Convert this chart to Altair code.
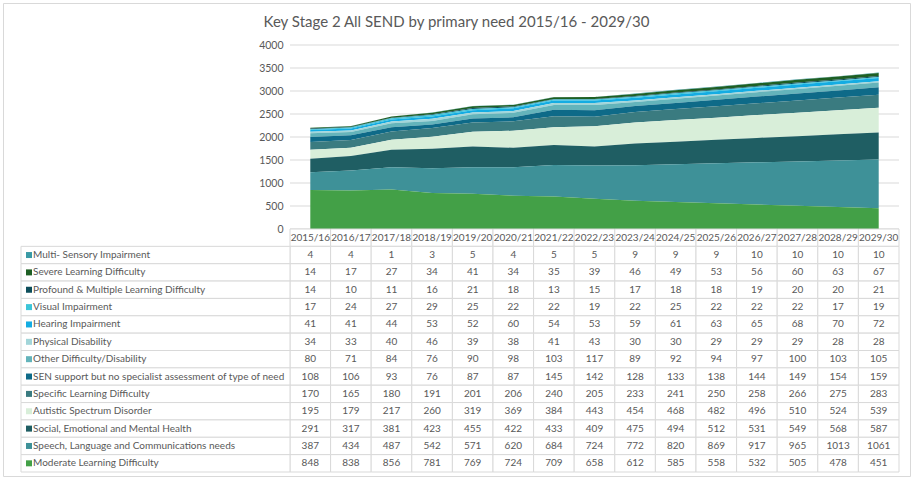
import altair as alt
import pandas as pd

TITLE = "Key Stage 2 All SEND by primary need 2015/16 - 2029/30"

years = ["2015/16", "2016/17", "2017/18", "2018/19", "2019/20", "2020/21", "2021/22",
         "2022/23", "2023/24", "2024/25", "2025/26", "2026/27", "2027/28", "2028/29", "2029/30"]

needs = [
    "Multi- Sensory Impairment",
    "Severe Learning Difficulty",
    "Profound & Multiple Learning Difficulty",
    "Visual Impairment",
    "Hearing Impairment",
    "Physical Disability",
    "Other Difficulty/Disability",
    "SEN support but no specialist assessment of type of need",
    "Specific Learning Difficulty",
    "Autistic Spectrum Disorder",
    "Social, Emotional and Mental Health",
    "Speech, Language and Communications needs",
    "Moderate Learning Difficulty",
]

multi_sensory = [4, 4, 1, 3, 5, 4, 5, 5, 9, 9, 9, 10, 10, 10, 10]
severe = [14, 17, 27, 34, 41, 34, 35, 39, 46, 49, 53, 56, 60, 63, 67]
profound = [14, 10, 11, 16, 21, 18, 13, 15, 17, 18, 18, 19, 20, 20, 21]
visual = [17, 24, 27, 29, 25, 22, 22, 19, 22, 25, 22, 22, 22, 17, 19]
hearing = [41, 41, 44, 53, 52, 60, 54, 53, 59, 61, 63, 65, 68, 70, 72]
physical = [34, 33, 40, 46, 39, 38, 41, 43, 30, 30, 29, 29, 29, 28, 28]
other = [80, 71, 84, 76, 90, 98, 103, 117, 89, 92, 94, 97, 100, 103, 105]
sen_support = [108, 106, 93, 76, 87, 87, 145, 142, 128, 133, 138, 144, 149, 154, 159]
specific = [170, 165, 180, 191, 201, 206, 240, 205, 233, 241, 250, 258, 266, 275, 283]
autistic = [195, 179, 217, 260, 319, 369, 384, 443, 454, 468, 482, 496, 510, 524, 539]
social = [291, 317, 381, 423, 455, 422, 433, 409, 475, 494, 512, 531, 549, 568, 587]
speech = [387, 434, 487, 542, 571, 620, 684, 724, 772, 820, 869, 917, 965, 1013, 1061]
moderate = [848, 838, 856, 781, 769, 724, 709, 658, 612, 585, 558, 532, 505, 478, 451]

series = [multi_sensory, severe, profound, visual, hearing, physical, other,
          sen_support, specific, autistic, social, speech, moderate]

colors = ["#3A9AA5", "#1E5F24", "#0D4E5B", "#3CC5D8", "#14ACE2", "#A2D5D9", "#64B4BB",
          "#0E6A88", "#3A7B80", "#D8EED9", "#1F5E63", "#3E9198", "#43A047"]

y_ticks = [0, 500, 1000, 1500, 2000, 2500, 3000, 3500, 4000]

FONT = "Lato"
GRAY = "#595959"
LINE = "#D9D9D9"

rows = []
for i, (need, vals) in enumerate(zip(needs, series)):
    for yr, v in zip(years, vals):
        rows.append({"year": yr, "need": need, "value": v, "rank": len(needs) - 1 - i})
df = pd.DataFrame(rows)

row_domain = ["hdr"] + needs
hdr_df = pd.DataFrame({"year": years, "need": ["hdr"] * len(years)})
cells_df = pd.DataFrame([{"year": yr, "need": r} for r in row_domain for yr in years])
labels_df = pd.DataFrame({"need": needs})
grid_df = pd.DataFrame({"value": y_ticks})

# layout ranges (inside the 3px padding)
X_RANGE = [287, 896]
Y_AREA = [226, 42]
Y_TABLE = [226, 469]

x_point = alt.Scale(type="point", domain=years, range=X_RANGE, padding=0.5)
x_band = alt.Scale(type="band", domain=years, range=X_RANGE, paddingInner=0, paddingOuter=0)
y_val = alt.Scale(domain=[0, 4000], range=Y_AREA, nice=False, zero=True)
y_rows = alt.Scale(type="band", domain=row_domain, range=Y_TABLE, paddingInner=0, paddingOuter=0)
color = alt.Color("need:N", scale=alt.Scale(domain=needs, range=colors), legend=None)

grid = alt.Chart(grid_df).mark_rule(color=LINE, strokeWidth=1).encode(
    y=alt.Y("value:Q", scale=y_val, axis=None),
    x=alt.value(X_RANGE[0]), x2=alt.value(X_RANGE[1]),
)

area = alt.Chart(df).mark_area(opacity=1).encode(
    x=alt.X("year:O", scale=x_point, axis=None),
    y=alt.Y("value:Q", stack="zero", scale=y_val,
            axis=alt.Axis(values=y_ticks, format="d", grid=False, ticks=False, domain=False,
                          offset=-X_RANGE[0], labelPadding=7, labelColor=GRAY,
                          labelFontSize=10.5, labelFont=FONT, title=None)),
    color=color,
    order=alt.Order("rank:Q", sort="ascending"),
)

cells = alt.Chart(cells_df).mark_rect(fill="white", stroke=LINE, strokeWidth=1).encode(
    x=alt.X("year:O", scale=x_band, axis=None),
    y=alt.Y("need:O", scale=y_rows, axis=None),
)

label_cells = alt.Chart(labels_df).mark_rect(fill="white", stroke=LINE, strokeWidth=1).encode(
    x=alt.value(18), x2=alt.value(X_RANGE[0]),
    y=alt.Y("need:O", scale=y_rows, axis=None),
)

values_txt = alt.Chart(df).mark_text(font=FONT, fontSize=10, color=GRAY, baseline="middle").encode(
    x=alt.X("year:O", scale=x_band, axis=None),
    y=alt.Y("need:O", scale=y_rows, axis=None),
    text=alt.Text("value:Q"),
)

hdr_txt = alt.Chart(hdr_df).mark_text(font=FONT, fontSize=10, color=GRAY, baseline="middle").encode(
    x=alt.X("year:O", scale=x_band, axis=None),
    y=alt.Y("need:O", scale=y_rows, axis=None),
    text=alt.Text("year:N"),
)

label_txt = alt.Chart(labels_df).mark_text(font=FONT, fontSize=10, color=GRAY, align="left",
                                           baseline="middle").encode(
    x=alt.value(30),
    y=alt.Y("need:O", scale=y_rows, axis=None),
    text=alt.Text("need:N"),
)

keys = alt.Chart(labels_df).mark_square(size=36, opacity=1).encode(
    x=alt.value(26),
    y=alt.Y("need:O", scale=y_rows, axis=None),
    color=color,
)

chart = alt.layer(
    grid, area, cells, label_cells, values_txt, hdr_txt, label_txt, keys
).resolve_scale(
    x="independent", y="independent"
).properties(
    width=907, height=473,
    padding={"left": 3, "top": 3, "right": 3, "bottom": 3},
    autosize="none",
    title=alt.Title(TITLE, font=FONT, fontSize=15, fontWeight="normal", color=GRAY,
                    anchor="middle", frame="group", orient="top", baseline="middle",
                    offset=-18, dy=16),
).configure_view(
    stroke=LINE, strokeWidth=1
)

chart.save("out.html", embed_options={"renderer": "svg", "actions": False})
